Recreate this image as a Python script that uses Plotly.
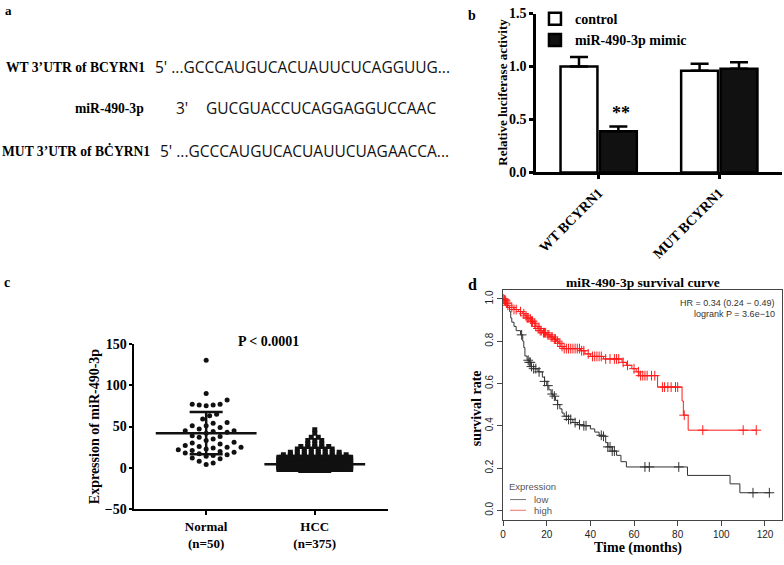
import numpy as np
import plotly.graph_objects as go

W, H = 784, 565

# ---------------- data ----------------
# panel b: luciferase assay
luc_categories = ["WT BCYRN1", "MUT BCYRN1"]
luc_control = [1.0, 0.96]
luc_control_err = [0.09, 0.065]
luc_mimic = [0.39, 0.98]
luc_mimic_err = [0.045, 0.06]

# panel c: expression of miR-490-3p
normal_values = [130, 90, 82, 77, 77, 76, 76, 75, 65, 63, 59, 55, 54, 51, 51, 49, 47, 45, 45, 44,
                 43, 42, 39, 38, 37, 35, 33, 31, 30, 29, 27, 26, 25, 25, 24, 23, 22, 21, 20, 19,
                 18, 17, 16, 15, 14, 12, 11, 8, 6, 4]
hcc_levels = [46, 42, 37, 33, 29, 26, 23, 19, 16, 13, 11, 9, 7, 5, 3, 1, 0, -2]
hcc_counts = [1, 1, 2, 3, 3, 5, 6, 8, 10, 30, 25, 30, 40, 45, 50, 55, 41, 20]
group_names = ["Normal<br>(n=50)", "HCC<br>(n=375)"]
group_means = [42, 4.5]
group_sds = [25.5, 9.2]

# panel d: survival curves
low_time = [0, 1, 2, 3, 3.5, 4, 5, 6, 8, 9, 9.5, 10, 11, 12, 13, 14, 16, 18, 19, 20, 21, 22, 23, 24,
            25, 26, 27, 28, 30, 32, 34, 37, 40, 42, 44, 46, 47, 48, 50, 52, 54, 56.5, 84.5, 104,
            108.5, 122.5]
low_surv = [1.0, 0.98, 0.96, 0.94, 0.91, 0.89, 0.87, 0.85, 0.83, 0.80, 0.77, 0.73, 0.71, 0.70, 0.68,
            0.67, 0.655, 0.63, 0.61, 0.59, 0.57, 0.55, 0.54, 0.52, 0.50, 0.48, 0.46, 0.445, 0.43,
            0.415, 0.405, 0.40, 0.385, 0.37, 0.355, 0.35, 0.32, 0.30, 0.28, 0.26, 0.23, 0.205, 0.165,
            0.125, 0.083, 0.083]
low_censor = [8.5, 11.5, 12, 12.5, 13, 14, 15, 16.5, 19, 20.5, 22.5, 23.5, 25, 29, 30, 31, 33, 35,
              37, 38, 45, 46, 48, 49, 50, 51, 65, 67, 80.5, 114.5, 122]
high_time = [0, 0.5, 1, 1.5, 2, 3, 5, 7, 9, 10, 11, 12, 13, 14, 15, 16, 17, 18, 20, 21.5, 23, 24.5,
             25.5, 26.5, 27.5, 35.5, 37.5, 40, 46, 54.5, 56.5, 59, 61, 62.3, 70.8, 82, 82.6, 84.8, 116]
high_surv = [1.0, 0.995, 0.99, 0.98, 0.97, 0.96, 0.95, 0.94, 0.93, 0.92, 0.91, 0.905, 0.895, 0.885,
             0.87, 0.86, 0.85, 0.84, 0.83, 0.82, 0.81, 0.80, 0.79, 0.775, 0.765, 0.755, 0.74, 0.728,
             0.716, 0.70, 0.686, 0.67, 0.655, 0.637, 0.583, 0.517, 0.45, 0.379, 0.379]
high_censor = [0.3, 0.6, 0.9, 1.2, 1.5, 1.8, 2.2, 4, 5, 6, 8, 9.5, 10.5, 11, 11.5, 12.5, 13, 13.5,
               14.5, 15, 16, 16.5, 17, 17.5, 18.5, 19, 19.5, 20.5, 21, 22, 22.5, 23.5, 24, 25, 26,
               27, 28, 29, 30, 31, 32, 33, 34, 35, 36, 37, 39, 41, 42, 43, 44, 45, 47, 49, 51, 52,
               53, 55, 57, 60, 62, 63, 64, 65, 66, 68, 69.5, 73, 74, 75.5, 77, 79, 80, 83, 91.5,
               110, 116]

# ---------------- helpers ----------------
def px(x):
    return x / W


def py(y):
    return 1 - y / H


SERIF = "Liberation Serif"
SANS = "Liberation Sans"


def sfont(size, color="black"):
    return dict(family=SERIF, size=size, color=color, weight="bold")


def step_at(ts, ss, t):
    i = np.searchsorted(np.array(ts), t, side="right") - 1
    return ss[i]


# panel c pixel scale (used only for spreading the dots sideways)
CX_PX = 109.0   # px per x unit
CY_PX = 0.85    # px per y unit
GAP = 7.0


def swarm(values):
    vals = np.array(values, dtype=float)
    order = np.argsort(vals)
    placed = []
    offs = np.zeros(len(vals))
    cands = [0.0] + [s * j * GAP / 2 for j in range(1, 60) for s in (1, -1)]
    for i in order:
        yp = vals[i] * CY_PX
        for c in cands:
            if all((c - a) ** 2 + (yp - b) ** 2 >= GAP ** 2 for a, b in placed):
                break
        placed.append((c, yp))
        offs[i] = c / CX_PX
    return offs


fig = go.Figure()

# ---------------- panel b ----------------
fig.add_trace(go.Bar(
    x=luc_categories, y=luc_control, name="control",
    marker=dict(color="white", line=dict(color="black", width=2.5)),
    error_y=dict(type="data", array=luc_control_err, arrayminus=[0, 0], symmetric=False,
                 width=9, thickness=2.5, color="black"),
    xaxis="x", yaxis="y", legend="legend"))
fig.add_trace(go.Bar(
    x=luc_categories, y=luc_mimic, name="miR-490-3p mimic",
    marker=dict(color="#111111", line=dict(color="black", width=2.5)),
    error_y=dict(type="data", array=luc_mimic_err, arrayminus=[0, 0], symmetric=False,
                 width=9, thickness=2.5, color="black"),
    xaxis="x", yaxis="y", legend="legend"))

# ---------------- panel c ----------------
n_off = swarm(normal_values)
fig.add_trace(go.Scatter(
    x=1 + n_off, y=normal_values, mode="markers",
    marker=dict(symbol="circle", size=5, color="#111111"),
    xaxis="x2", yaxis="y2", showlegend=False))

hx, hy = [], []
for lev, cnt in zip(hcc_levels, hcc_counts):
    sp = GAP if cnt == 1 else min(GAP, 72.0 / (cnt - 1))
    for i in range(cnt):
        hx.append(2 + (i - (cnt - 1) / 2) * sp / CX_PX)
        hy.append(lev)
fig.add_trace(go.Scatter(
    x=hx, y=hy, mode="markers",
    marker=dict(symbol="square", size=5, color="#111111"),
    xaxis="x2", yaxis="y2", showlegend=False))

fig.add_trace(go.Scatter(
    x=[1, 2], y=group_means, mode="markers",
    marker=dict(symbol="line-ew-open", size=72, color="#111111",
                line=dict(color="#111111", width=2.5)),
    error_y=dict(type="data", array=group_sds, symmetric=True, width=16.5, thickness=2.5,
                 color="#111111"),
    xaxis="x2", yaxis="y2", showlegend=False))

# ---------------- panel d ----------------
LOW_C = "#333333"
HIGH_C = "#ff1a1a"
fig.add_trace(go.Scatter(
    x=low_time, y=low_surv, mode="lines", line=dict(color=LOW_C, width=1, shape="hv"),
    xaxis="x3", yaxis="y3", showlegend=False, name="low"))
fig.add_trace(go.Scatter(
    x=high_time, y=high_surv, mode="lines", line=dict(color=HIGH_C, width=1, shape="hv"),
    xaxis="x3", yaxis="y3", showlegend=False, name="high"))
fig.add_trace(go.Scatter(
    x=low_censor, y=[step_at(low_time, low_surv, t) for t in low_censor], mode="markers",
    marker=dict(symbol="cross-thin", size=7, line=dict(color=LOW_C, width=1)),
    xaxis="x3", yaxis="y3", showlegend=False))
fig.add_trace(go.Scatter(
    x=high_censor, y=[step_at(high_time, high_surv, t) for t in high_censor], mode="markers",
    marker=dict(symbol="cross-thin", size=7, line=dict(color=HIGH_C, width=1)),
    xaxis="x3", yaxis="y3", showlegend=False))

# ---------------- annotations ----------------
ann = []


def text(t, x, y, font, xanchor="center", yanchor="middle", angle=0, xref="paper", yref="paper"):
    ann.append(dict(text=t, x=x, y=y, xref=xref, yref=yref, xanchor=xanchor, yanchor=yanchor,
                    showarrow=False, font=font, textangle=angle))


SEQF = dict(family="Open Sans", size=15.5, color="#111111")
LBL = 13.6
# panel a
text("a", px(0), py(4), sfont(13), xanchor="left")
text("WT 3’UTR of BCYRN1", px(145), py(62), sfont(LBL), xanchor="right")
text("5' ...GCCCAUGUCACUAUUCUCAGGUUG...", px(151), py(62), SEQF, xanchor="left")
text("miR-490-3p", px(144), py(104), sfont(LBL), xanchor="right")
text("3'", px(172), py(104), SEQF, xanchor="left")
text("GUCGUACCUCAGGAGGUCCAAC", px(202), py(104), SEQF, xanchor="left")
text("MUT 3’UTR of BĊYRN1", px(150), py(148), sfont(LBL), xanchor="right")
text("5' ...GCCCAUGUCACUAUUCUAGAACCA...", px(156), py(148), SEQF, xanchor="left")

# panel b
text("b", px(471), py(9), sfont(14))
text("Relative luciferase activity", px(502), py(88), sfont(13), angle=-90)
ann.append(dict(text="**", x=0, y=0.45, xref="x", yref="y", xanchor="center", yanchor="bottom",
                xshift=22, showarrow=False, font=sfont(18)))

# panel c
text("c", px(4), py(283), sfont(14))
text("Expression of miR-490-3p", px(92), py(431), sfont(14), angle=-90)
text("P < 0.0001", px(267), py(344), sfont(14))

# panel d
text("d", px(471), py(285), sfont(16))
text("miR-490-3p survival curve", px(642), py(283), sfont(13.5))
text("survival rate", px(475), py(412), sfont(14), angle=-90)
text("Time (months)", px(637), py(556), sfont(14))
RF = dict(family=SANS, size=9, color="#333333")
text("HR = 0.34 (0.24 − 0.49)", px(777), py(304), RF, xanchor="right")
text("logrank P = 3.6e−10", px(777), py(315), RF, xanchor="right")
LF = dict(family=SANS, size=9.5, color="#555555")
text("Expression", px(506), py(493), LF, xanchor="left")
text("low", px(531), py(506), LF, xanchor="left")
text("high", px(531), py(517), LF, xanchor="left")

shapes = [
    dict(type="line", xref="paper", yref="paper", x0=px(509), x1=px(525), y0=py(506), y1=py(506),
         line=dict(color="#777777", width=1)),
    dict(type="line", xref="paper", yref="paper", x0=px(509), x1=px(525), y0=py(517), y1=py(517),
         line=dict(color="#f07070", width=1)),
]

AX_COMMON = dict(showgrid=False, zeroline=False, showline=True)

fig.update_layout(
    width=W, height=H, margin=dict(l=0, r=0, t=0, b=0),
    paper_bgcolor="white", plot_bgcolor="rgba(0,0,0,0)",
    barmode="group", bargap=0.347, bargroupgap=0.063,
    annotations=ann, shapes=shapes,
    legend=dict(x=px(534), y=py(-4), xanchor="left", yanchor="top", bgcolor="rgba(0,0,0,0)",
                font=sfont(14), tracegroupgap=0),
    xaxis=dict(AX_COMMON, domain=[px(535), px(782)], range=[-0.52, 1.52], anchor="y",
               linecolor="black", linewidth=2.5, ticks="outside", ticklen=4, tickwidth=2.5,
               tickcolor="black", tickangle=-45, tickfont=sfont(14)),
    yaxis=dict(AX_COMMON, domain=[py(170), py(6.7)], range=[0, 1.5], anchor="x",
               tickvals=[0, 0.5, 1.0, 1.5], ticktext=["0.0", "0.5", "1.0", "1.5"],
               linecolor="black", linewidth=2.5, ticks="outside", ticklen=4, tickwidth=2.5,
               tickcolor="black", tickfont=sfont(14)),
    xaxis2=dict(AX_COMMON, domain=[px(132), px(386)], range=[0.34, 2.67], anchor="y2",
                tickvals=[1, 2], ticktext=group_names, linecolor="black", linewidth=2,
                ticks="outside", ticklen=4, tickwidth=2, tickcolor="black", tickfont=sfont(13)),
    yaxis2=dict(AX_COMMON, domain=[py(516), py(346)], range=[-50, 150], anchor="x2",
                tickvals=[-50, 0, 50, 100, 150], linecolor="black", linewidth=2,
                ticks="outside", ticklen=3, tickwidth=2, tickcolor="black", tickfont=sfont(14)),
    xaxis3=dict(AX_COMMON, domain=[px(502), px(782)], range=[0, 127.8], anchor="y3",
                tickvals=[0, 20, 40, 60, 80, 100, 120], linecolor="#444444", linewidth=1,
                mirror=True, ticks="outside", ticklen=5, tickwidth=1, tickcolor="#444444",
                tickfont=dict(family=SANS, size=10, color="#222222")),
    yaxis3=dict(AX_COMMON, domain=[py(527), py(291)], range=[-0.046, 1.041], anchor="x3",
                tickvals=[0, 0.2, 0.4, 0.6, 0.8, 1.0],
                ticktext=["0.0", "0.2", "0.4", "0.6", "0.8", "1.0"], tickangle=-90,
                linecolor="#444444", linewidth=1, mirror=True, ticks="outside", ticklen=5,
                tickwidth=1, tickcolor="#444444",
                tickfont=dict(family=SANS, size=10, color="#222222")),
)

fig.write_html("out.html", config={"displayModeBar": False},
               post_script="document.body.style.margin='0px';")
